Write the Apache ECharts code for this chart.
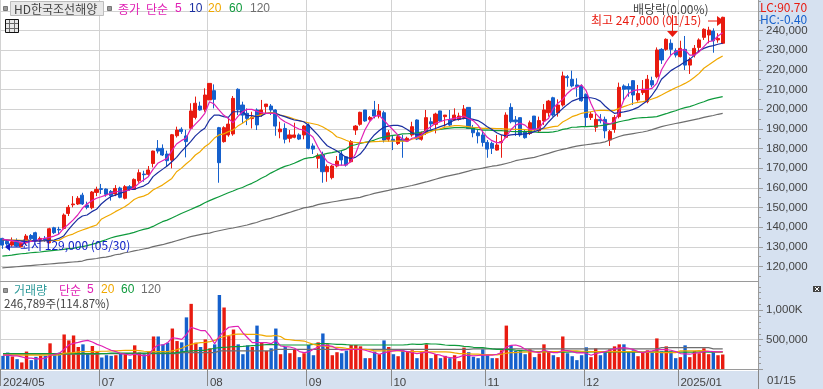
<!DOCTYPE html>
<html><head><meta charset="utf-8">
<style>html,body{margin:0;padding:0;background:#D6E1F0}#c{width:823px;height:389px}</style>
<script src="https://cdn.jsdelivr.net/npm/echarts@6/dist/echarts.min.js"></script></head>
<body><div id="c"></div>
<script>
// prices in thousand won, volumes in thousand shares; one entry per trading day from 2024/05/30 to 2025/01/15
const monthIdx=[0,21,44,65,83,103,124,144];
const monthLabels=['2024/05','07','08','09','10','11','12','2025/01'];
const priceTicks=[120,130,140,150,160,170,180,190,200,210,220,230,240];
const priceGridTicks=[120,130,140,150,160,170,180,190,200,210,220,230,240,250];
const priceMinorTicks=[115,125,135,145,155,165,175,185,195,205,215,225,235,245,255];
const volumeTicks=[0,500,1000];
const volumeMinorTicks=[100,200,300,400,600,700,800,900,1100,1200,1300,1400];
const open=[134.3,132.8,130.9,132.6,130.1,132.1,135.8,137.2,133.0,134.3,
132.1,139.7,138.9,139.4,147.0,151.4,151.8,156.3,151.3,149.9,
157.7,159.6,159.4,158.2,156.9,159.9,154.7,160.6,159.2,163.6,
167.0,166.9,172.4,180.1,180.1,177.2,174.1,186.5,189.8,186.4,
190.3,195.8,201.6,199.9,204.7,209.4,190.6,183.5,186.9,187.4,
210.1,202.1,197.9,195.2,199.6,197.0,201.3,201.6,199.6,188.5,
190.2,185.2,185.7,186.9,186.9,192.0,181.3,175.0,176.7,168.2,
165.2,171.1,177.2,175.8,173.3,189.4,192.3,199.6,194.8,199.6,
196.5,198.2,184.7,184.7,182.6,184.8,183.8,186.9,194.5,184.7,
188.0,193.6,192.3,199.1,196.2,194.8,194.5,194.8,195.8,200.9,
190.6,188.0,186.9,183.1,182.6,179.2,183.0,185.7,200.9,194.5,
195.7,188.6,187.7,196.5,189.0,194.0,198.2,205.8,198.2,202.1,
216.5,215.2,212.3,211.8,207.5,195.8,190.8,194.8,194.8,184.3,
189.7,196.2,211.8,211.5,214.5,204.7,208.4,203.8,214.5,216.5,
230.4,230.4,233.5,229.7,226.7,230.4,222.4,227.5,231.4,236.5,
237.7,239.7,235.2,233.5];
const close=[130.9,131.5,132.6,130.4,131.8,135.5,134.1,133.1,134.3,133.5,
139.2,137.2,138.6,146.2,150.1,151.8,154.7,151.8,150.1,157.9,
159.2,159.2,156.7,156.0,159.7,155.2,160.6,159.2,164.3,167.7,
166.7,169.1,178.7,178.7,176.7,173.8,187.0,189.4,188.6,183.5,
199.1,203.0,199.6,207.2,213.1,205.0,172.8,190.6,192.4,205.5,
199.6,197.0,195.3,195.8,192.0,199.6,202.6,199.6,191.4,189.9,
184.7,186.9,186.9,184.8,191.4,180.1,179.7,176.4,168.2,170.8,
171.1,173.6,174.2,171.6,183.5,191.4,198.4,194.0,195.8,196.5,
199.1,184.3,188.0,183.8,186.0,183.8,185.2,191.1,184.8,188.0,
195.7,192.5,197.5,194.0,197.0,191.9,197.0,196.5,200.1,190.2,
188.0,186.5,183.1,179.7,180.1,181.8,183.5,197.0,193.6,193.6,
186.9,185.5,193.1,189.7,194.2,199.6,204.1,197.0,202.1,216.9,
216.0,211.8,211.5,204.3,195.8,197.5,194.8,194.1,189.0,188.6,
195.8,211.1,210.1,210.2,207.2,208.0,210.1,215.2,212.3,230.1,
225.0,235.5,230.4,227.5,230.9,222.4,225.3,230.9,235.2,240.6,
240.2,234.8,236.0,246.7];
const low=[129.0,130.5,130.1,130.1,129.7,130.9,133.5,132.6,132.4,132.6,
131.8,136.5,136.5,138.9,145.7,150.1,151.3,151.3,149.1,149.1,
155.8,156.9,155.5,153.5,155.8,154.7,154.1,158.6,158.9,162.6,
163.1,166.2,170.4,177.5,176.2,171.1,169.9,185.6,187.4,175.5,
189.4,194.8,199.2,198.7,204.7,200.4,162.6,183.0,186.0,186.5,
197.0,192.8,191.9,190.2,189.4,196.2,197.9,197.0,186.5,185.2,
182.6,183.1,185.2,184.3,184.7,179.6,177.2,169.9,162.6,163.1,
164.3,170.4,171.4,170.8,173.0,186.9,191.6,193.6,194.1,195.3,
195.3,183.1,183.5,179.2,181.8,175.3,183.5,186.0,184.3,184.0,
186.9,189.7,187.7,193.6,191.1,191.4,194.2,194.2,194.8,189.9,
185.7,182.6,181.0,175.3,177.2,178.9,175.3,185.2,192.8,186.4,
186.0,185.0,186.9,188.5,188.0,192.0,196.2,196.2,196.2,201.3,
211.4,211.1,206.3,203.8,191.4,194.5,188.5,192.8,185.2,181.3,
188.0,195.3,204.7,206.3,202.1,203.8,207.2,203.0,211.1,215.7,
223.0,229.7,227.5,226.3,226.3,219.9,217.9,226.3,229.2,235.2,
233.5,228.7,233.8,233.1];
const high=[134.6,133.5,134.8,134.3,132.6,136.5,136.5,137.7,135.2,135.5,
139.7,140.2,140.2,147.0,151.3,155.8,155.8,157.5,153.0,158.4,
160.6,162.0,159.7,158.9,161.4,160.6,161.4,161.4,164.8,169.4,
168.7,171.1,178.9,184.3,182.1,178.9,187.4,191.1,190.8,189.5,
203.0,206.4,203.8,210.6,213.1,212.6,191.0,191.3,195.3,206.7,
210.6,203.8,200.4,198.7,200.4,204.7,202.6,202.6,200.0,193.6,
192.8,189.4,193.1,187.7,191.9,192.8,182.6,177.5,178.4,171.9,
171.6,176.2,178.9,176.2,184.3,191.9,198.7,199.6,196.5,204.2,
202.6,199.2,189.4,186.9,186.9,186.9,186.0,193.6,194.8,188.6,
199.6,195.8,198.2,199.2,197.0,199.6,200.4,198.2,202.1,200.9,
192.0,189.4,189.4,184.3,183.5,186.9,186.9,198.4,203.0,196.5,
195.7,189.4,194.2,196.5,196.2,202.6,204.7,206.3,205.0,219.1,
217.4,219.6,215.7,212.6,208.0,198.7,197.5,197.5,196.2,189.4,
197.0,213.5,212.6,213.1,214.8,212.3,214.8,217.4,216.5,231.4,
231.0,236.0,235.5,230.9,234.8,237.2,226.3,232.6,236.0,241.1,
241.9,241.1,238.6,247.0];
const ma5=[134.0,133.6,133.2,132.8,132.0,132.2,132.8,133.2,133.8,134.3,
134.8,135.5,136.5,139.4,141.4,143.6,146.2,149.6,151.8,153.5,
154.7,155.5,156.3,157.2,157.9,158.4,158.4,158.9,160.2,162.3,
164.0,165.7,169.4,172.5,173.8,175.0,178.9,182.3,184.0,185.2,
189.9,192.4,194.8,197.9,203.8,202.6,199.6,197.0,195.3,193.1,
196.2,198.7,199.9,199.9,199.0,198.2,197.9,197.9,197.9,195.3,
193.6,192.5,191.1,189.9,189.4,187.7,185.7,180.9,176.7,173.3,
172.1,171.6,171.6,171.6,173.3,177.2,183.5,189.4,193.6,196.2,
197.0,194.5,191.9,189.4,186.9,184.7,183.5,185.2,185.7,186.9,
189.4,191.1,192.8,193.6,194.5,194.8,195.3,195.8,196.5,195.3,
194.2,191.9,188.6,185.7,184.0,183.0,183.0,186.0,189.4,191.9,
192.8,191.9,189.7,189.7,190.2,193.6,195.3,200.4,203.0,205.0,
208.0,210.1,211.1,212.3,209.4,203.0,197.9,195.3,193.1,192.5,
193.6,198.7,204.7,208.0,209.4,209.8,210.1,210.1,210.6,213.1,
219.9,224.1,227.5,229.2,230.1,230.1,227.5,227.5,229.2,231.8,
234.3,234.8,237.2,238.9];
const ma10=[133.5,133.4,133.3,133.2,133.0,132.8,132.8,132.9,133.0,133.1,
133.3,133.5,134.3,135.5,138.6,141.4,144.0,145.7,146.2,147.9,
149.1,151.8,153.8,155.5,156.3,157.2,158.0,159.2,159.2,160.2,
160.9,162.3,165.7,167.7,169.4,171.1,173.3,175.5,178.4,180.9,
183.5,186.4,188.6,190.3,194.5,197.0,197.0,196.2,195.8,198.7,
198.7,198.7,196.7,196.7,196.2,196.5,197.9,197.9,197.9,197.0,
196.2,195.3,194.5,194.2,193.6,191.9,189.4,186.9,184.0,181.4,
180.1,178.9,177.2,175.5,175.0,175.5,177.2,180.1,184.0,186.9,
189.0,190.8,191.4,191.8,191.8,191.1,189.7,188.0,186.9,186.9,
188.6,189.4,190.2,191.1,191.9,193.1,194.5,194.8,195.3,195.3,
194.8,194.2,192.8,191.1,189.7,188.0,186.9,186.4,186.9,187.2,
187.2,187.4,187.7,188.6,189.4,190.6,193.5,196.0,198.0,200.3,
202.3,204.1,205.0,205.8,206.0,205.8,205.3,204.1,201.6,199.6,
197.9,198.2,198.6,199.1,199.9,200.9,202.6,204.3,207.2,210.6,
215.2,217.4,219.6,221.1,222.4,224.1,225.3,227.5,229.7,230.9,
231.8,232.3,233.0,233.5];
const ma20=[133.6,133.5,133.5,133.4,133.3,133.3,133.2,133.2,133.2,133.2,
133.2,133.2,133.3,134.8,135.8,136.5,137.7,138.6,139.4,140.3,
141.1,144.0,145.3,146.5,147.9,149.1,150.4,152.1,154.1,155.2,
155.8,156.9,158.9,160.2,161.4,163.1,164.8,168.2,169.9,172.1,
174.1,176.7,178.4,180.9,182.6,185.2,186.9,187.4,188.6,189.4,
191.4,192.8,194.5,195.8,196.5,197.2,197.9,198.4,197.9,197.0,
196.5,195.8,195.0,194.2,193.6,193.1,192.6,192.1,191.1,189.7,
188.2,186.0,185.2,184.2,183.3,183.1,183.0,183.1,183.3,183.5,
183.6,183.8,183.8,183.8,183.8,183.8,183.8,184.7,185.3,186.4,
187.7,188.6,189.4,190.0,190.9,191.2,191.6,191.6,191.4,191.1,
190.8,190.6,190.2,190.2,190.2,190.1,190.1,189.9,189.9,189.7,
189.7,189.6,189.4,189.4,189.7,190.1,190.6,191.1,191.4,193.5,
194.8,196.2,197.0,197.9,198.4,198.7,199.2,199.4,199.4,199.2,
199.4,200.4,201.3,202.1,203.0,203.5,203.8,204.3,205.2,206.0,
207.2,208.5,209.7,210.9,211.9,213.1,214.5,216.2,218.2,220.8,
222.4,224.1,225.7,227.0];
const ma60=[125.3,125.5,125.8,126.2,126.5,126.7,127.0,127.2,127.4,127.7,
128.0,128.2,128.4,128.7,129.1,129.2,129.7,130.1,130.6,131.3,
131.9,132.8,133.6,134.5,135.2,135.7,136.2,136.7,137.4,138.2,
138.9,139.4,140.4,141.6,142.8,143.6,144.7,145.8,147.0,148.0,
149.0,150.1,151.1,152.4,153.5,154.5,155.5,156.5,157.5,158.4,
159.4,160.2,161.3,162.3,163.5,164.9,166.0,167.5,168.7,169.9,
170.9,171.6,172.5,173.6,174.7,175.2,175.5,176.5,176.9,177.5,
177.9,178.4,178.9,179.7,181.4,181.9,182.6,183.1,183.5,184.3,
185.2,185.8,186.3,186.7,186.9,187.4,187.5,187.7,188.0,188.4,
188.9,189.2,189.4,189.7,190.1,190.4,190.6,190.6,190.6,190.4,
190.1,189.7,189.4,189.4,189.2,189.1,189.1,188.9,188.7,188.6,
188.6,188.6,188.6,188.4,188.2,188.2,188.2,188.5,188.9,189.7,
190.1,190.8,190.9,191.1,191.1,191.3,191.4,191.6,191.9,192.4,
192.9,193.6,194.1,194.6,195.2,195.5,195.7,195.8,196.0,196.2,
197.0,197.7,198.5,199.2,200.1,200.8,201.3,202.1,203.0,203.8,
204.7,205.4,205.9,206.4];
const ma120=[119.3,119.5,119.7,119.9,120.1,120.3,120.5,120.7,120.9,121.1,
121.3,121.5,121.7,121.9,122.1,122.3,122.5,122.8,123.5,123.8,
124.1,124.5,124.8,125.3,126.0,126.3,127.0,127.4,128.0,128.4,
128.9,129.4,130.1,130.6,131.1,131.8,132.4,133.1,133.8,134.5,
135.2,135.7,136.2,136.7,137.0,137.7,138.2,138.7,139.2,139.6,
140.1,140.6,141.1,141.8,142.4,143.3,144.0,144.5,145.3,146.0,
146.8,147.5,148.3,149.0,149.8,150.2,150.7,151.5,152.0,152.4,
152.8,153.2,153.6,154.0,154.4,154.8,155.2,155.9,156.5,157.2,
157.7,158.2,158.7,159.3,159.7,160.2,160.7,161.2,161.8,162.4,
163.0,163.7,164.4,165.1,165.7,166.2,166.7,167.2,167.9,168.5,
169.2,169.6,170.0,170.5,171.0,171.3,171.8,172.4,173.0,173.8,
174.3,174.7,175.1,175.5,176.2,176.9,177.5,178.3,179.0,179.6,
180.1,180.7,181.2,181.6,181.9,182.2,182.6,182.9,183.4,184.3,
185.2,186.1,186.8,187.2,187.6,188.0,188.4,188.9,189.6,190.4,
191.1,191.7,192.2,192.7,193.2,193.7,194.2,194.7,195.2,195.8,
196.3,196.8,197.4,197.9];
const volume=[224,280,213,168,112,297,151,207,224,224,
437,263,280,588,487,571,375,420,269,392,
308,196,235,224,235,269,252,168,403,280,
252,297,554,554,420,448,689,476,454,879,
1109,448,375,504,353,420,1260,1047,560,672,
420,252,403,375,739,448,308,353,689,252,
375,269,325,202,269,409,235,454,605,420,
235,286,269,314,409,409,386,185,185,297,
252,487,375,252,218,319,297,319,185,286,
420,185,252,185,224,185,235,134,364,286,
207,185,336,235,185,185,319,739,403,308,
319,252,336,202,263,420,297,235,202,554,
269,218,151,235,370,202,353,235,297,336,
386,420,420,297,319,218,286,319,280,521,
302,386,297,185,202,403,202,308,269,353,
252,297,235,247];
const volMa5=[235,235,224,224,207,185,185,174,174,185,
230,252,269,336,409,437,454,476,487,459,
420,392,353,319,297,263,252,235,252,241,
224,235,353,409,409,448,532,521,504,588,
711,683,655,655,560,431,560,644,711,722,
728,616,532,448,448,448,448,431,487,392,
381,375,353,297,280,291,336,375,409,398,
386,342,319,330,336,336,336,319,297,274,
252,274,297,308,319,308,297,280,263,274,
291,274,252,235,207,196,185,207,235,230,
224,230,235,235,235,252,280,375,403,409,
386,336,308,291,280,319,297,280,280,319,
314,297,274,280,269,235,263,280,297,319,
342,358,364,353,330,297,280,297,308,325,
330,330,319,297,263,258,252,269,280,297,
302,297,291,297];
const volMa20=[235,235,235,235,235,235,235,235,235,235,
235,238,241,269,274,280,291,297,297,297,
297,302,302,308,308,314,319,319,319,314,
302,297,297,297,297,297,308,330,353,392,
420,437,448,454,465,487,532,554,571,588,
594,594,588,588,588,577,560,560,571,554,
504,498,487,482,476,448,420,403,392,386,
375,370,364,353,347,342,336,336,325,308,
308,308,308,308,308,302,297,297,297,297,
291,291,291,291,291,286,274,263,263,258,
252,252,246,246,246,241,252,269,280,280,
286,286,291,291,291,291,291,297,297,302,
308,308,308,302,302,297,297,297,297,297,
297,297,297,297,297,291,286,286,286,286,
280,280,280,280,308,308,308,308,314,308,
302,297,291,291];
const volMa60=[263,263,263,263,263,263,263,263,263,263,
263,263,263,263,263,263,263,263,263,263,
263,263,263,269,269,269,269,269,269,269,
269,269,269,269,269,269,269,280,291,302,
308,314,319,319,336,353,364,370,375,381,
381,386,392,398,403,409,414,414,414,409,
409,409,409,409,409,409,420,431,431,431,
426,420,420,414,409,409,409,409,409,409,
409,409,409,409,409,409,414,426,420,420,
431,426,426,420,409,403,403,398,386,381,
370,364,364,353,342,336,336,330,330,319,
314,308,308,302,297,297,297,291,291,286,
286,291,291,286,286,291,297,291,286,286,
291,291,286,286,291,286,286,291,291,286,
286,291,291,286,286,291,286,286,291,291,
286,291,286,286];
const volMa120=[252,252,252,252,252,252,252,252,252,252,
252,252,252,252,252,252,252,252,252,252,
252,263,263,263,263,263,263,263,263,263,
263,263,263,263,263,263,263,263,280,280,
280,280,280,280,280,280,308,308,308,308,
308,308,308,308,308,308,308,308,336,336,
336,336,336,336,336,336,336,336,336,336,
336,336,336,336,336,336,336,336,336,336,
336,336,336,336,336,336,336,336,336,336,
336,336,336,336,336,336,336,336,336,336,
342,342,342,342,342,342,342,342,342,342,
342,342,342,342,342,342,342,342,342,342,
342,342,342,342,342,342,342,342,342,342,
342,342,342,342,342,342,342,342,342,342,
364,364,364,364,364,364,364,364,364,364,
364,342,342,342];
const categories=[];for(let i=0;i<161;i++)categories.push(String(i));

const C={up:'#E81B10',down:'#1560CC',ma5:'#E020B4',ma10:'#1A2FA0',ma20:'#F0A800',ma60:'#0E9A3C',ma120:'#6E6E6E',
 grid:'#D2D2D2',axis:'#9A9A9A',text:'#444444',band:'#D6E1F0'};
const sans='"Liberation Sans",sans-serif', kr='"Noto Sans CJK KR","Liberation Sans",sans-serif';
const isMonth=i=>monthIdx.indexOf(+i)>=0;
const line=(name,data,color,x,y,z)=>({name,type:'line',data,xAxisIndex:x,yAxisIndex:y,showSymbol:false,symbol:'none',silent:true,
  lineStyle:{color,width:1.2},z:z||5,animation:false});
const txt=(x,y,text,fill,extra)=>({type:'text',x,y,silent:true,z:50,style:Object.assign({text,fill,font:'12px '+kr,textVerticalAlign:'middle'},extra||{})});
const rect=(x,y,w,h,fill,stroke,z)=>({type:'rect',silent:true,z:z||50,shape:{x,y,width:w,height:h},style:{fill:fill,stroke:stroke||null,lineWidth:1}});
const seg=(x1,y1,x2,y2,stroke,w)=>({type:'line',silent:true,z:50,shape:{x1,y1,x2,y2},style:{stroke,lineWidth:w||1}});
const poly=(pts,fill)=>({type:'polygon',silent:true,z:50,shape:{points:pts},style:{fill}});
const minorAxis=(grid,min,max,values)=>({type:'value',gridIndex:grid,position:'right',min,max,
  axisLine:{show:false},splitLine:{show:false},axisLabel:{show:false},
  axisTick:{show:true,length:3,customValues:values,lineStyle:{color:C.axis}}});

const chart=echarts.init(document.getElementById('c'),null,{renderer:'canvas'});
const xBase={type:'category',data:categories,boundaryGap:true,
  axisLine:{show:true,lineStyle:{color:C.axis}},
  splitLine:{show:true,interval:(i)=>isMonth(i),lineStyle:{color:C.grid,width:1}}};
const digit={color:C.text,fontFamily:sans,fontSize:11.5};
chart.setOption({
 animation:false,backgroundColor:C.band,
 grid:[{left:0,top:0,width:758,height:281,show:true,backgroundColor:'#fff',borderWidth:0},
       {left:0,top:281,width:758,height:91,show:true,backgroundColor:'#fff',borderWidth:0}],
 xAxis:[Object.assign({},xBase,{gridIndex:0,axisTick:{show:false},axisLabel:{show:false}}),
  Object.assign({},xBase,{gridIndex:1,
    axisTick:{show:true,length:17,interval:(i)=>isMonth(i),lineStyle:{color:'#888'}},
    axisLabel:Object.assign({show:true,interval:(i)=>isMonth(i),align:'left',margin:6,
      formatter:(v)=>{const k=monthIdx.indexOf(+v);return k>=0?monthLabels[k]:'';}},digit)})],
 yAxis:[{type:'value',gridIndex:0,position:'right',min:112.65,max:255.5,
    axisLine:{show:true,lineStyle:{color:C.axis}},
    axisTick:{show:true,length:5,customValues:priceGridTicks,lineStyle:{color:C.axis}},
    splitLine:{show:true,lineStyle:{color:C.grid}},
    axisLabel:Object.assign({align:'left',margin:8,customValues:priceTicks,formatter:(v)=>v+',000'},digit)},
  {type:'value',gridIndex:1,position:'right',min:-33.7,max:1498,
    axisLine:{show:true,lineStyle:{color:C.axis}},
    axisTick:{show:true,length:5,customValues:volumeTicks,lineStyle:{color:C.axis}},
    splitLine:{show:true,lineStyle:{color:C.grid}},
    axisLabel:Object.assign({align:'left',margin:8,customValues:[500,1000],
      formatter:(v)=>v===500?'500,000':'1,000K'},digit)},
  minorAxis(0,112.65,255.5,priceMinorTicks),
  minorAxis(1,-33.7,1498,volumeMinorTicks)],
 series:[
  {name:'candle',type:'candlestick',xAxisIndex:0,yAxisIndex:0,barWidth:3.6,silent:true,z:3,animation:false,
   data:open.map((o,i)=>[o,close[i],low[i],high[i]]),
   itemStyle:{color:C.up,color0:C.down,borderColor:C.up,borderColor0:C.down,borderWidth:1}},
  line('ma120',ma120,C.ma120,0,0),line('ma60',ma60,C.ma60,0,0),line('ma20',ma20,C.ma20,0,0),
  line('ma10',ma10,C.ma10,0,0),line('ma5',ma5,C.ma5,0,0),
  {name:'volume',type:'bar',xAxisIndex:1,yAxisIndex:1,barWidth:3.4,silent:true,z:3,animation:false,
   data:volume.map((v,i)=>({value:v,itemStyle:{color:close[i]>=open[i]?C.up:C.down}}))},
  line('volMa120',volMa120,C.ma120,1,1),line('volMa60',volMa60,C.ma60,1,1),
  line('volMa20',volMa20,C.ma20,1,1),line('volMa5',volMa5,C.ma5,1,1)
 ],
 graphic:{elements:[
  rect(3.5,6.5,4,4,'#9a9a9a','#777'),
  rect(10.5,1.5,93,14,'#E8E8E8','#BDBDBD'),
  txt(14,9,'HD한국조선해양','#444'),
  rect(107.5,6.5,4,4,'#9a9a9a','#777'),
  txt(118,9,'종가',C.ma5),txt(146,9,'단순',C.ma5),txt(175,9,'5',C.ma5,{font:'12px '+sans}),
  txt(189,9,'10',C.ma10,{font:'12px '+sans}),txt(208,9,'20',C.ma20,{font:'12px '+sans}),
  txt(229,9,'60',C.ma60,{font:'12px '+sans}),txt(250,9,'120',C.ma120,{font:'12px '+sans}),
  rect(5.5,19.5,13,13,'#E8E8E8','#111'),seg(9.5,20,9.5,32,'#666'),seg(14.5,20,14.5,32,'#666'),seg(6,23.5,18,23.5,'#666'),seg(6,28.5,18,28.5,'#666'),
  rect(3.5,288.5,4,4,'#9a9a9a','#777'),
  txt(14,290,'거래량','#2E9A9A'),txt(59,290,'단순',C.ma5),txt(87,290,'5',C.ma5,{font:'12px '+sans}),txt(101,290,'20',C.ma20,{font:'12px '+sans}),
  txt(121,290,'60',C.ma60,{font:'12px '+sans}),txt(141,290,'120',C.ma120,{font:'12px '+sans}),
  txt(4,304,'246,789주(114.87%)','#444',{font:'11.5px '+kr}),
  txt(633,9,'배당락(0.00%)','#444'),
  seg(672.5,15,672.5,31,'#E81B10'),poly([[667,31],[678,31],[672.5,37]],'#E81B10'),
  txt(591,20,'최고 247,000 (01/15)','#E81B10'),
  seg(708,21,718,21,'#E81B10'),poly([[717,16],[724,21],[717,26]],'#E81B10'),
  txt(20,245.5,'최저 129,000 (05/30)','#1020C8'),
  poly([[5,247],[10,243],[10,251]],'#1020C8'),seg(10,247,20,247,'#1020C8'),
  txt(760,7,'LC:90.70','#E81B10'),txt(760,19,'HC:-0.40','#1560CC'),
  txt(767,380.5,'01/15',C.text,{font:'11.5px '+sans}),
  seg(758.5,372,758.5,389,'#888'),
  rect(813,286,8,6,'#444'),seg(815,287,819,291,'#fff'),seg(819,287,815,291,'#fff')
 ]}
});
</script></body></html>
